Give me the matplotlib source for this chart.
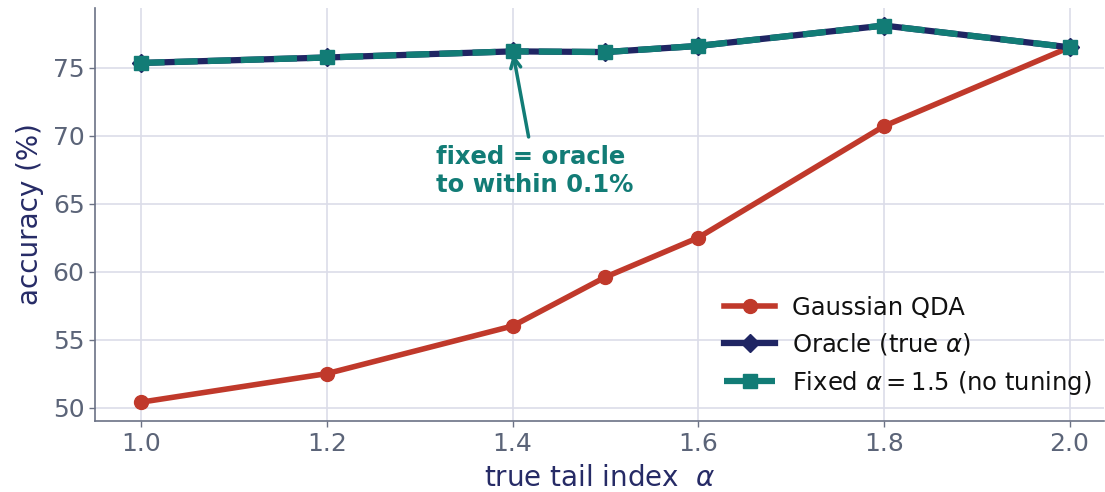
import numpy as np
import matplotlib
matplotlib.use("Agg")
import matplotlib.pyplot as plt


# true tail index values and accuracies
alpha_values = [1.0, 1.2, 1.4, 1.5, 1.6, 1.8, 2.0]
gaussian_qda = [50.4, 52.5, 56.0, 59.6, 62.5, 70.7, 76.5]
oracle_acc = [75.35, 75.75, 76.2, 76.15, 76.6, 78.1, 76.5]
fixed_acc = [75.35, 75.75, 76.2, 76.15, 76.6, 78.1, 76.5]

x_ticks = [1.0, 1.2, 1.4, 1.6, 1.8, 2.0]
y_ticks = [50, 55, 60, 65, 70, 75]

RED = "#c0392b"
NAVY = "#1f2563"
TEAL = "#127c76"
TICK_COLOR = "#5b6478"
LABEL_COLOR = "#262b66"
SPINE_COLOR = "#6b7285"
GRID_COLOR = "#dcdde9"


def main():
    fig, ax = plt.subplots(figsize=(11.05, 4.92), dpi=100)
    fig.subplots_adjust(left=0.086, right=0.999, bottom=0.144, top=0.984)

    ax.plot(alpha_values, gaussian_qda, color=RED, lw=4, marker="o",
            markersize=10, label="Gaussian QDA", zorder=3)
    ax.plot(alpha_values, oracle_acc, color=NAVY, lw=4.5, marker="D",
            markersize=9, label=r"Oracle (true $\alpha$)", zorder=4)
    ax.plot(alpha_values, fixed_acc, color=TEAL, lw=4.5, ls="--", marker="s",
            markersize=10, label=r"Fixed $\alpha = 1.5$ (no tuning)", zorder=5)

    ax.annotate("fixed = oracle\nto within 0.1%",
                xy=(1.4, 76.2), xytext=(1.424, 69.3),
                ha="center", va="top", multialignment="left",
                fontsize=17.5, fontweight="bold", color=TEAL,
                arrowprops=dict(arrowstyle="->", color=TEAL, lw=2.5,
                                shrinkA=4, shrinkB=2, mutation_scale=18),
                zorder=6)

    ax.set_xlim(0.95, 2.037)
    ax.set_ylim(49.0, 79.4)
    ax.set_xticks(x_ticks)
    ax.set_xticklabels([f"{v:.1f}" for v in x_ticks])
    ax.set_yticks(y_ticks)

    ax.grid(True, color=GRID_COLOR, lw=1.2)
    ax.set_axisbelow(True)

    for side in ["top", "right"]:
        ax.spines[side].set_visible(False)
    for side in ["left", "bottom"]:
        ax.spines[side].set_color(SPINE_COLOR)
        ax.spines[side].set_linewidth(1.2)

    ax.tick_params(axis="both", labelsize=18, colors=SPINE_COLOR,
                   labelcolor=TICK_COLOR, length=4, width=1)

    ax.set_xlabel(r"true tail index  $\alpha$", fontsize=20, color=LABEL_COLOR,
                  labelpad=6)
    ax.set_ylabel("accuracy (%)", fontsize=20, color=LABEL_COLOR, labelpad=6)

    leg = ax.legend(loc="lower right", bbox_to_anchor=(1.0, 0.03),
                    frameon=False, fontsize=17.5, handlelength=2.1,
                    handletextpad=0.7, borderaxespad=0.1, labelspacing=0.47)
    for text in leg.get_texts():
        text.set_color("#111111")

    fig.savefig("out.png", dpi=100)
    plt.close(fig)


if __name__ == "__main__":
    main()
